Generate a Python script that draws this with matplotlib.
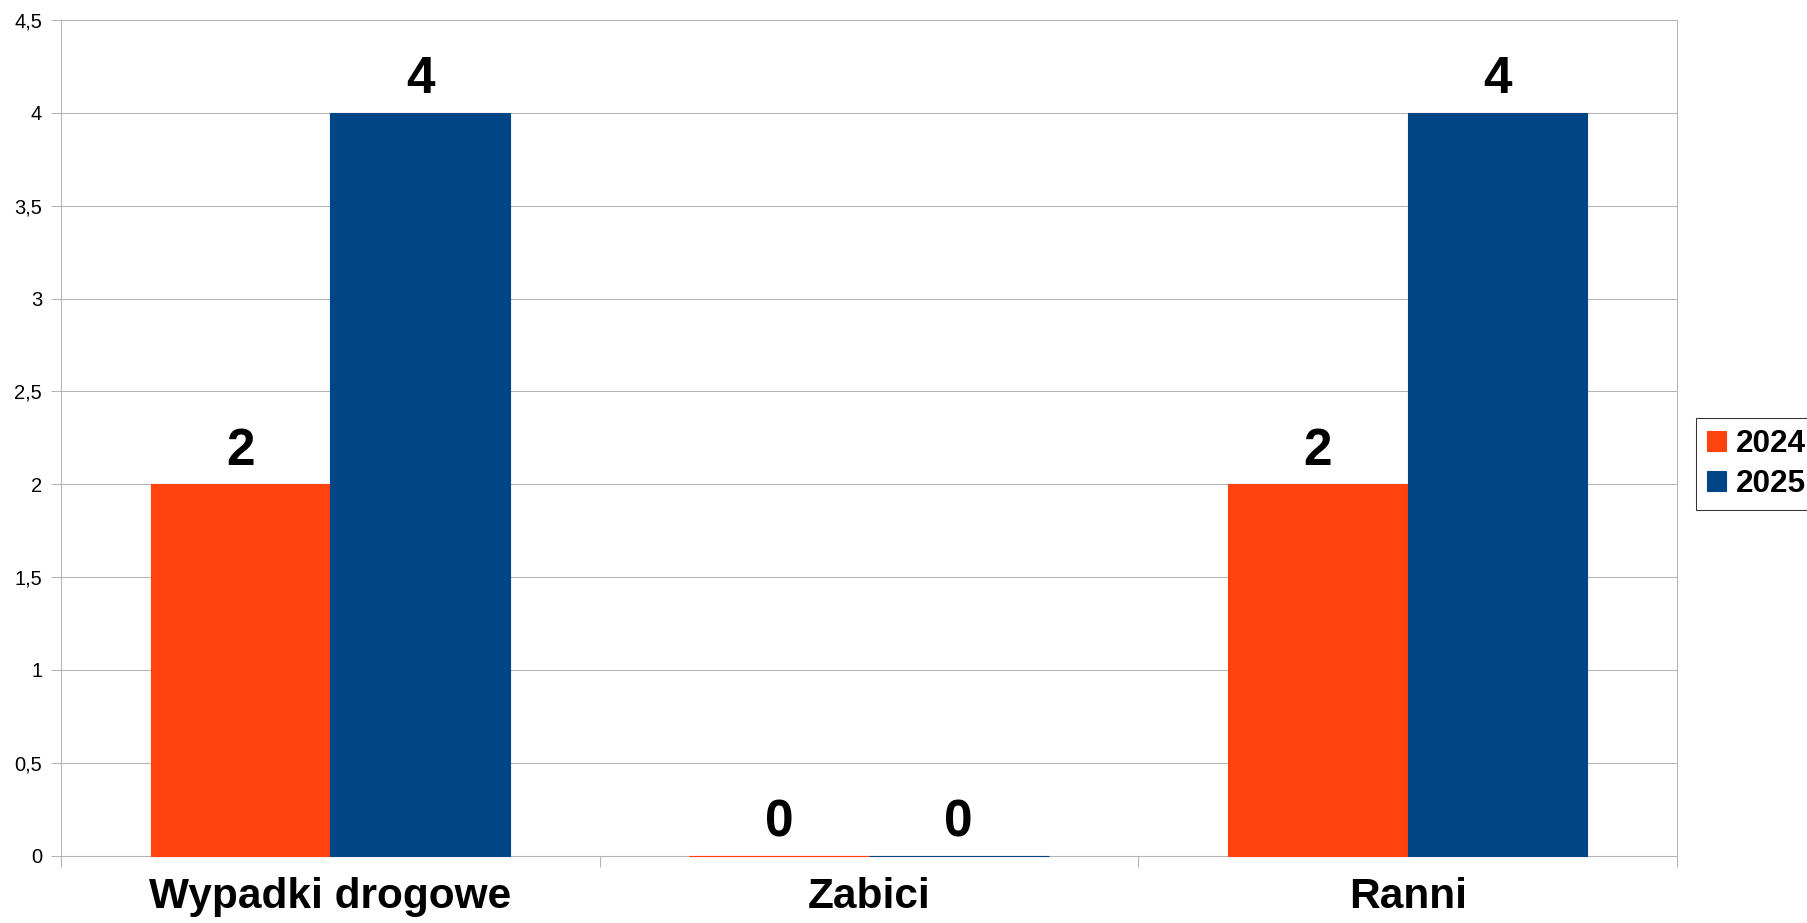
import matplotlib
matplotlib.use("Agg")
import matplotlib.pyplot as plt
import numpy as np

# Dane z wykresu
kategorie = ["Wypadki drogowe", "Zabici", "Ranni"]
lata = ["2024", "2025"]
wartosci_2024 = [2, 0, 2]
wartosci_2025 = [4, 0, 4]
kolory = ["#ff420e", "#004586"]
y_ticks = [0, 0.5, 1, 1.5, 2, 2.5, 3, 3.5, 4, 4.5]

plt.rcParams["font.family"] = ["Liberation Sans", "DejaVu Sans"]
szary = "#b3b3b3"

fig = plt.figure(figsize=(18.08, 9.23), dpi=100)
ax = fig.add_axes([61 / 1808, 1 - 855.7 / 923, (1677 - 61) / 1808, (855.7 - 20) / 923])

x = np.arange(len(kategorie))
w = 1 / 3
serie = [wartosci_2024, wartosci_2025]
for i, (rok, vals) in enumerate(zip(lata, serie)):
    pos = x + (i - 0.5) * w
    bars = ax.bar(pos, vals, width=w, color=kolory[i], edgecolor=kolory[i],
                  linewidth=0.8, label=rok, zorder=3, clip_on=False)
    for px, v in zip(pos, vals):
        ax.annotate(str(v), (px, v), xytext=(0, 14), textcoords="offset points",
                    ha="center", va="baseline", fontsize=37, fontweight="bold",
                    zorder=4)

ax.set_xlim(-0.5, 2.5)
ax.set_ylim(0, 4.5)

ax.set_yticks(y_ticks)
ax.set_yticklabels([("%g" % t).replace(".", ",") for t in y_ticks], fontsize=14.5)
ax.tick_params(axis="y", length=7.5, color=szary, width=0.75, pad=6)

ax.set_xticks(x)
ax.set_xticklabels(kategorie, fontsize=30.5, fontweight="bold")
ax.tick_params(axis="x", which="major", length=0, pad=15)
ax.set_xticks([-0.5, 0.5, 1.5, 2.5], minor=True)
ax.tick_params(axis="x", which="minor", length=8, color=szary, width=0.75)

ax.grid(axis="y", color=szary, linewidth=0.75, zorder=0)
ax.set_axisbelow(True)
for s in ax.spines.values():
    s.set_color(szary)
    s.set_linewidth(0.75)

leg = fig.legend(loc="center left", bbox_to_anchor=(1696 / 1808, 1 - 464 / 923),
                 prop={"size": 22.7, "weight": "bold"}, frameon=True,
                 fancybox=False, edgecolor="#000000", handlelength=0.6,
                 handleheight=0.6, handletextpad=0.3, borderpad=0.35,
                 labelspacing=0.3, borderaxespad=0)
leg.get_frame().set_linewidth(0.75)

fig.savefig("out.png", dpi=100)
